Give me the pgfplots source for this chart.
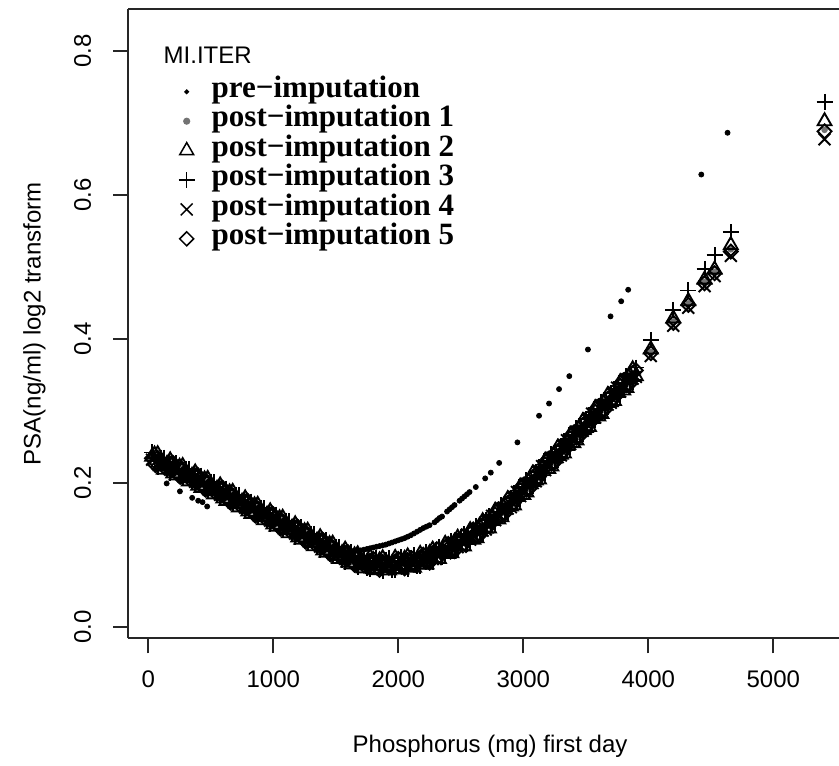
\documentclass[border=0pt]{standalone}
\usepackage{fontspec}
\setmainfont{Liberation Sans}
\newfontfamily\legfont{Liberation Serif}
\usepackage{pgfplots}
\usepackage{pgfplotstable}
\pgfplotsset{compat=1.18}

% observed values (pre-imputation)
\pgfplotstableread{
x y
60 0.236
100 0.231
147 0.199
200 0.223
253 0.188
300 0.215
351 0.179
399 0.175
400 0.206
434 0.173
471 0.167
500 0.197
600 0.188
700 0.179
800 0.170
900 0.161
1000 0.152
1100 0.143
1200 0.134
1300 0.125
1400 0.116
1500 0.108
1550 0.105
1575 0.104
1600 0.104
1625 0.1045
1650 0.105
1675 0.1055
1700 0.106
1725 0.107
1750 0.108
1775 0.109
1800 0.110
1825 0.111
1850 0.112
1875 0.113
1900 0.114
1925 0.1155
1950 0.117
1975 0.1185
2000 0.120
2025 0.1215
2050 0.123
2075 0.125
2100 0.127
2125 0.1295
2150 0.132
2175 0.1345
2200 0.137
2225 0.139
2250 0.141
2290 0.145
2310 0.148
2330 0.151
2350 0.153
2390 0.160
2410 0.163
2430 0.166
2450 0.169
2490 0.175
2510 0.178
2530 0.181
2550 0.184
2570 0.187
2620 0.194
2695 0.206
2740 0.214
2807 0.2275
2953 0.256
3126 0.293
3206 0.310
3286 0.330
3368 0.348
3517 0.385
3698 0.431
3783 0.452
3839 0.468
4424 0.628
4634 0.686
}\pre

% imputed values, one column per imputation
\pgfplotstableread{
x tri plus cross dia dot
30 0.236 0.242 0.232 0.234 0.235
50 0.239 0.230 0.234 0.226 0.237
100 0.223 0.235 0.222 0.231 0.226
150 0.226 0.217 0.230 0.222 0.218
200 0.213 0.224 0.218 0.227 0.221
250 0.222 0.213 0.217 0.209 0.220
300 0.207 0.219 0.206 0.215 0.210
350 0.2095 0.2005 0.2135 0.2055 0.2015
400 0.196 0.207 0.201 0.210 0.204
450 0.2045 0.1955 0.1995 0.1915 0.2025
500 0.189 0.201 0.188 0.197 0.192
550 0.1915 0.1825 0.1955 0.1875 0.1835
600 0.178 0.189 0.183 0.192 0.186
650 0.1865 0.1775 0.1815 0.1735 0.1845
700 0.171 0.183 0.170 0.179 0.174
750 0.1735 0.1645 0.1775 0.1695 0.1655
800 0.160 0.171 0.165 0.174 0.168
850 0.1685 0.1595 0.1635 0.1555 0.1665
900 0.153 0.165 0.152 0.161 0.156
950 0.1555 0.1465 0.1595 0.1515 0.1475
1000 0.142 0.153 0.147 0.156 0.150
1050 0.1505 0.1415 0.1455 0.1375 0.1485
1100 0.135 0.147 0.134 0.143 0.138
1150 0.1375 0.1285 0.1415 0.1335 0.1295
1200 0.124 0.135 0.129 0.138 0.132
1250 0.1325 0.1235 0.1275 0.1195 0.1305
1300 0.117 0.129 0.116 0.125 0.120
1350 0.1195 0.1105 0.1235 0.1155 0.1115
1400 0.106 0.117 0.111 0.120 0.114
1450 0.1145 0.1055 0.1095 0.1015 0.1125
1500 0.099 0.111 0.098 0.107 0.102
1550 0.102 0.093 0.106 0.098 0.094
1600 0.089 0.100 0.094 0.103 0.097
1650 0.099 0.090 0.094 0.086 0.097
1700 0.085 0.097 0.084 0.093 0.088
1750 0.090 0.081 0.094 0.086 0.082
1800 0.080 0.091 0.085 0.094 0.088
1850 0.092 0.083 0.087 0.079 0.090
1900 0.081 0.093 0.080 0.089 0.084
1950 0.088 0.079 0.092 0.084 0.080
2000 0.080 0.091 0.085 0.094 0.088
2050 0.094 0.085 0.089 0.081 0.092
2100 0.084 0.096 0.083 0.092 0.087
2150 0.093 0.084 0.097 0.089 0.085
2200 0.086 0.097 0.091 0.100 0.094
2250 0.102 0.093 0.097 0.089 0.100
2300 0.095 0.107 0.094 0.103 0.098
2350 0.106 0.097 0.110 0.102 0.098
2400 0.101 0.112 0.106 0.115 0.109
2450 0.118 0.109 0.113 0.105 0.116
2500 0.112 0.124 0.111 0.120 0.115
2550 0.124 0.115 0.128 0.120 0.116
2600 0.121 0.132 0.126 0.135 0.129
2650 0.140 0.131 0.135 0.127 0.138
2700 0.136 0.148 0.135 0.144 0.139
2750 0.150 0.141 0.154 0.146 0.142
2800 0.149 0.160 0.154 0.163 0.157
2850 0.170 0.161 0.165 0.157 0.168
2900 0.167 0.179 0.166 0.175 0.170
2950 0.183 0.174 0.187 0.179 0.175
3000 0.183 0.194 0.188 0.197 0.191
3050 0.205 0.196 0.200 0.192 0.203
3100 0.203 0.215 0.202 0.211 0.206
3150 0.219 0.210 0.223 0.215 0.211
3200 0.219 0.230 0.224 0.233 0.227
3250 0.241 0.232 0.236 0.228 0.239
3300 0.239 0.251 0.238 0.247 0.242
3350 0.255 0.246 0.259 0.251 0.247
3400 0.255 0.266 0.260 0.269 0.263
3450 0.2775 0.2685 0.2725 0.2645 0.2755
3500 0.276 0.288 0.275 0.284 0.279
3550 0.292 0.283 0.296 0.288 0.284
3600 0.292 0.303 0.297 0.306 0.300
3650 0.314 0.305 0.309 0.301 0.312
3700 0.312 0.324 0.311 0.320 0.315
3750 0.328 0.319 0.332 0.324 0.320
3800 0.328 0.339 0.333 0.342 0.336
3850 0.350 0.341 0.345 0.337 0.348
3900 0.348 0.360 0.347 0.356 0.351
4020 0.385 0.398 0.376 0.380 0.382
4200 0.428 0.440 0.418 0.422 0.424
4320 0.452 0.467 0.443 0.447 0.449
4450 0.482 0.497 0.473 0.477 0.479
4530 0.496 0.516 0.487 0.491 0.493
4660 0.530 0.548 0.515 0.521 0.524
5410 0.702 0.729 0.677 0.688 0.690
75 0.2395 0.2225 0.2265 0.2345 0.2305
125 0.218 0.235 0.230 0.222 0.226
175 0.231 0.214 0.218 0.226 0.222
225 0.210 0.227 0.222 0.214 0.218
275 0.223 0.206 0.210 0.218 0.214
325 0.2018 0.2188 0.2138 0.2058 0.2098
375 0.2142 0.1972 0.2012 0.2092 0.2052
425 0.1928 0.2098 0.2048 0.1968 0.2008
475 0.2052 0.1882 0.1922 0.2002 0.1962
525 0.1838 0.2008 0.1958 0.1878 0.1918
575 0.1962 0.1792 0.1832 0.1912 0.1872
625 0.1748 0.1918 0.1868 0.1788 0.1828
675 0.1872 0.1702 0.1742 0.1822 0.1782
725 0.1658 0.1828 0.1778 0.1698 0.1738
775 0.1782 0.1612 0.1652 0.1732 0.1692
825 0.1568 0.1738 0.1688 0.1608 0.1648
875 0.1692 0.1522 0.1562 0.1642 0.1602
925 0.1478 0.1648 0.1598 0.1518 0.1558
975 0.1602 0.1432 0.1472 0.1552 0.1512
1025 0.1388 0.1558 0.1508 0.1428 0.1468
1075 0.1512 0.1342 0.1382 0.1462 0.1422
1125 0.1298 0.1468 0.1418 0.1338 0.1378
1175 0.1422 0.1252 0.1292 0.1372 0.1332
1225 0.1208 0.1378 0.1328 0.1248 0.1288
1275 0.1332 0.1162 0.1202 0.1282 0.1242
1325 0.1118 0.1288 0.1238 0.1158 0.1198
1375 0.1242 0.1072 0.1112 0.1192 0.1152
1425 0.1028 0.1198 0.1148 0.1068 0.1108
1475 0.1152 0.0982 0.1022 0.1102 0.1062
1525 0.094 0.111 0.106 0.098 0.102
1575 0.107 0.090 0.094 0.102 0.098
1625 0.0865 0.1035 0.0985 0.0905 0.0945
1675 0.1005 0.0835 0.0875 0.0955 0.0915
1725 0.081 0.098 0.093 0.085 0.089
1775 0.0965 0.0795 0.0835 0.0915 0.0875
1825 0.0785 0.0955 0.0905 0.0825 0.0865
1875 0.095 0.078 0.082 0.090 0.086
1925 0.078 0.095 0.090 0.082 0.086
1975 0.0955 0.0785 0.0825 0.0905 0.0865
2025 0.0795 0.0965 0.0915 0.0835 0.0875
2075 0.0975 0.0805 0.0845 0.0925 0.0885
2125 0.082 0.099 0.094 0.086 0.090
2175 0.101 0.084 0.088 0.096 0.092
2225 0.0865 0.1035 0.0985 0.0905 0.0945
2275 0.107 0.090 0.094 0.102 0.098
2325 0.094 0.111 0.106 0.098 0.102
2375 0.115 0.098 0.102 0.110 0.106
2425 0.102 0.119 0.114 0.106 0.110
2475 0.1235 0.1065 0.1105 0.1185 0.1145
2525 0.1115 0.1285 0.1235 0.1155 0.1195
2575 0.134 0.117 0.121 0.129 0.125
2625 0.123 0.140 0.135 0.127 0.131
2675 0.1465 0.1295 0.1335 0.1415 0.1375
2725 0.1365 0.1535 0.1485 0.1405 0.1445
2775 0.161 0.144 0.148 0.156 0.152
2825 0.152 0.169 0.164 0.156 0.160
2875 0.177 0.160 0.164 0.172 0.168
2925 0.1685 0.1855 0.1805 0.1725 0.1765
2975 0.1945 0.1775 0.1815 0.1895 0.1855
3025 0.1865 0.2035 0.1985 0.1905 0.1945
3075 0.2125 0.1955 0.1995 0.2075 0.2035
3125 0.2045 0.2215 0.2165 0.2085 0.2125
3175 0.2305 0.2135 0.2175 0.2255 0.2215
3225 0.2225 0.2395 0.2345 0.2265 0.2305
3275 0.2485 0.2315 0.2355 0.2435 0.2395
3325 0.2405 0.2575 0.2525 0.2445 0.2485
3375 0.2665 0.2495 0.2535 0.2615 0.2575
3425 0.2588 0.2758 0.2708 0.2628 0.2668
3475 0.2852 0.2682 0.2722 0.2802 0.2762
3525 0.2775 0.2945 0.2895 0.2815 0.2855
3575 0.3035 0.2865 0.2905 0.2985 0.2945
3625 0.2955 0.3125 0.3075 0.2995 0.3035
3675 0.3215 0.3045 0.3085 0.3165 0.3125
3725 0.3135 0.3305 0.3255 0.3175 0.3215
3775 0.3395 0.3225 0.3265 0.3345 0.3305
3825 0.3315 0.3485 0.3435 0.3355 0.3395
3875 0.3575 0.3405 0.3445 0.3525 0.3485
}\post

\pgfplotsset{
  legimg/.style={legend image code/.code={
    \path[draw=none, fill=none] (-6pt,-4pt) rectangle (6pt,4pt);
    \draw[##1, line width=0.75pt] plot coordinates {(0pt,0pt)};}},
}

\begin{document}
\begin{tikzpicture}
\begin{axis}[
  name=ax,
  scale only axis, width=355.35pt, height=314.5pt,
  xmin=-160, xmax=5525.6, ymin=-0.0161, ymax=0.8575,
  axis x line=box, axis y line=left,
  axis line style={-, black!85, line width=0.9pt},
  tick pos=left, tick align=outside, major tick length=7.5pt,
  tick style={black!85, line width=0.9pt},
  xtick={0,1000,2000,3000,4000,5000},
  ytick={0,0.2,0.4,0.6,0.8},
  scaled x ticks=false, scaled y ticks=false,
  /pgf/number format/assume math mode=true,
  ticklabel style={font=\fontsize{12}{14}\selectfont},
  xticklabel style={/pgf/number format/1000 sep={}, yshift=-5pt},
  yticklabel style={/pgf/number format/fixed, /pgf/number format/zerofill,
    /pgf/number format/precision=1, xshift=-7.5pt, rotate=90, anchor=south},
  xlabel={Phosphorus (mg) first day},
  ylabel={PSA(ng/ml) log2 transform},
  label style={font=\fontsize{12}{14}\selectfont},
  xlabel style={at={(axis description cs:0.509,0)}, anchor=center, yshift=-54pt},
  ylabel style={at={([xshift=-47pt]axis description cs:0,0.5)}, anchor=center},
  legend style={at={(rel axis cs:0.0653,0.8922)}, anchor=north west,
    draw=none, fill=none, inner sep=0pt, outer sep=0pt,
    row sep=0pt, column sep=6.5pt,
    font=\legfont\bfseries\fontsize{15.5}{15.5}\selectfont,
    nodes={inner sep=0pt, text height=10.2pt, text depth=4.5pt}},
  legend cell align=left,
]
\addplot[only marks, mark=*, mark size=1.25pt, black,
  legimg, legend image post style={mark size=0.8pt}]
  table[x=x, y=y] {\pre};
\addlegendentry{pre−imputation}
\addplot[only marks, mark=*, mark size=1.4pt, black!55, legimg]
  table[x=x, y=dot] {\post};
\addlegendentry{post−imputation 1}
\addplot[only marks, mark=triangle, mark size=4pt, black, line width=0.95pt, legimg]
  table[x=x, y=tri] {\post};
\addlegendentry{post−imputation 2}
\addplot[only marks, mark=+, mark size=4pt, black, line width=0.95pt, legimg]
  table[x=x, y=plus] {\post};
\addlegendentry{post−imputation 3}
\addplot[only marks, mark=x, mark size=4.2pt, black, line width=0.95pt, legimg]
  table[x=x, y=cross] {\post};
\addlegendentry{post−imputation 4}
\addplot[only marks, mark=diamond, mark size=3.5pt, mark options={xscale=1.33},
  black, line width=0.95pt, legimg]
  table[x=x, y=dia] {\post};
\addlegendentry{post−imputation 5}
\node[anchor=base west, inner sep=0pt, xshift=17.5pt, yshift=-27.15pt,
  font=\fontsize{12}{14}\selectfont] at (rel axis cs:0,1) {MI.ITER};
\end{axis}
\pgfresetboundingbox
\useasboundingbox ([xshift=-64.15pt,yshift=-63.35pt]ax.south west)
  rectangle ([yshift=4.65pt]ax.north east);
\end{tikzpicture}
\end{document}
